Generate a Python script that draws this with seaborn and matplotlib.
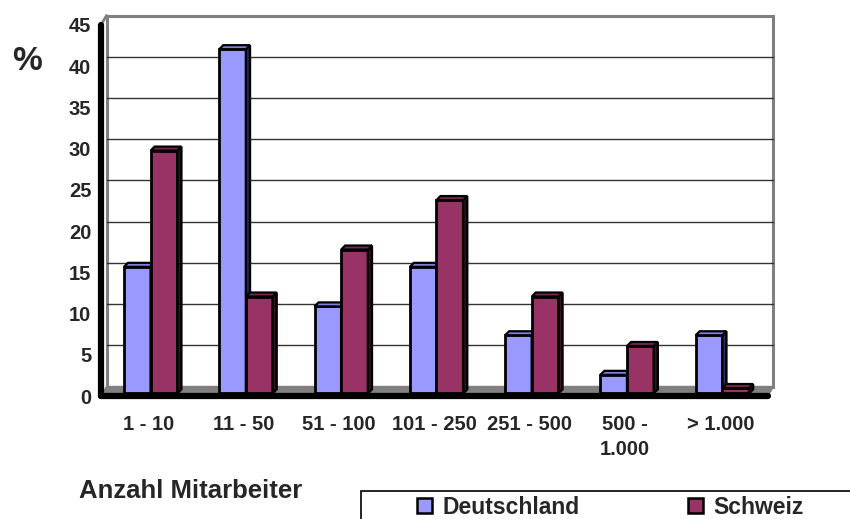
import numpy as np
import pandas as pd
import matplotlib
matplotlib.use("Agg")
import matplotlib.pyplot as plt
import seaborn as sns
from matplotlib.patches import Polygon, Rectangle, Patch
from matplotlib.transforms import ScaledTranslation

# ---- data -------------------------------------------------------------
categories = ["1 - 10", "11 - 50", "51 - 100", "101 - 250", "251 - 500",
              "500 -\n1.000", "> 1.000"]
deutschland = [15.0, 41.4, 10.2, 15.0, 6.7, 1.9, 6.7]
schweiz = [29.1, 11.4, 17.1, 23.1, 11.4, 5.4, 0.3]
series_names = ["Deutschland", "Schweiz"]
y_ticks = list(range(0, 50, 5))

face_colors = {"Deutschland": "#9999ff", "Schweiz": "#993366"}
cap_colors = {"Deutschland": "#7f7fe0", "Schweiz": "#7a2851"}
side_colors = {"Deutschland": "#2e2e66", "Schweiz": "#3a1226"}

# ---- style ------------------------------------------------------------
sns.set_theme(style="white")
plt.rcParams["font.family"] = ["Liberation Sans", "DejaVu Sans"]
plt.rcParams["font.weight"] = "bold"

W, H, DPI = 850, 519, 100
fig = plt.figure(figsize=(W / DPI, H / DPI), dpi=DPI)
fig.patch.set_facecolor("white")
ax = fig.add_axes([101 / W, 1 - 396 / H, (768 - 101) / W, (396 - 25) / H])
ax.patch.set_visible(False)

df = pd.DataFrame({
    "Anzahl": categories * 2,
    "Prozent": deutschland + schweiz,
    "Land": [series_names[0]] * len(categories) + [series_names[1]] * len(categories),
})

sns.barplot(data=df, x="Anzahl", y="Prozent", hue="Land", order=categories,
            hue_order=series_names, palette=face_colors, saturation=1,
            width=0.56, edgecolor="black", linewidth=2.0, legend=False, ax=ax)

ax.set_xlim(-0.5, len(categories) - 0.5)
ax.set_ylim(0, 45)
ax.set_xlabel("")
ax.set_ylabel("")


def px_to_data(dx_px, dy_px):
    inv = ax.transData.inverted()
    x0, y0 = inv.transform((0, 0))
    x1, y1 = inv.transform((dx_px, dy_px))
    return x1 - x0, y1 - y0


def shifted(dx_px, dy_px):
    return ax.transData + ScaledTranslation(dx_px / DPI, dy_px / DPI, fig.dpi_scale_trans)


# 3-D depth: back wall sits behind the axis plane, bars in between
wall_dx, wall_dy = 5.5, 9.5
bar_dx, bar_dy = 2.0, 5.5
depth_dx, depth_dy = 4.0, 4.0

wall_trans = ax.transAxes + ScaledTranslation(wall_dx / DPI, wall_dy / DPI, fig.dpi_scale_trans)
ax.add_patch(Rectangle((0, 0), 1, 1, transform=wall_trans, facecolor="white",
                       edgecolor="#808080", lw=2.2, zorder=0.2, clip_on=False))
wt = shifted(wall_dx, wall_dy)
for v in y_ticks[1:-1]:
    ax.plot([-0.5, len(categories) - 0.5], [v, v], transform=wt, color="#333333",
            lw=1.0, zorder=0.5, clip_on=False)

wx, wy = px_to_data(wall_dx, wall_dy)
x_lo, x_hi = -0.5, len(categories) - 0.5
ax.add_patch(Polygon([(x_lo, 0), (x_hi, 0), (x_hi + wx, wy), (x_lo + wx, wy)],
                     closed=True, facecolor="#808080", edgecolor="#808080",
                     lw=1, zorder=1, clip_on=False))
ax.plot([x_lo, x_lo + wx], [45, 45 + wy], color="#808080", lw=2, zorder=1,
        clip_on=False)

# front faces plus top and side faces of every bar
bt = shifted(bar_dx, bar_dy)
ddx, ddy = px_to_data(depth_dx, depth_dy)
_, ext = px_to_data(0, 2.8)
for k, (name, container) in enumerate(zip(series_names, ax.containers)):
    base_z = 2 + 0.3 * k
    for bar in container:
        x, w, h = bar.get_x(), bar.get_width(), bar.get_height()
        bar.set_y(-ext)
        bar.set_height(h + ext)
        bar.set_transform(bt)
        bar.set_zorder(base_z)
        bar.set_clip_on(False)
        cap = [(x, h), (x + w, h), (x + w + ddx, h + ddy), (x + ddx, h + ddy)]
        side = [(x + w, -ext), (x + w, h), (x + w + ddx, h + ddy), (x + w + ddx, ddy - ext)]
        ax.add_patch(Polygon(side, closed=True, transform=bt, facecolor=side_colors[name],
                             edgecolor="black", lw=1.8, zorder=base_z + 0.1, clip_on=False))
        ax.add_patch(Polygon(cap, closed=True, transform=bt, facecolor=cap_colors[name],
                             edgecolor="black", lw=1.6, zorder=base_z + 0.15, clip_on=False))

# ---- axes -------------------------------------------------------------
for s in ["top", "right"]:
    ax.spines[s].set_visible(False)
for s in ["left", "bottom"]:
    ax.spines[s].set_linewidth(4.5)
    ax.spines[s].set_color("black")
    ax.spines[s].set_zorder(5)
    ax.spines[s].set_capstyle("round")

ax.set_yticks(y_ticks)
ax.set_yticklabels([str(v) for v in y_ticks])
ax.tick_params(axis="y", direction="out", length=5, width=4.5, color="black",
               pad=2.0, labelsize=14.5)
ax.set_xticks(range(len(categories)))
ax.set_xticklabels(categories, linespacing=1.35)
ax.set_xticks(np.arange(-0.5, len(categories), 1), minor=True)
ax.tick_params(axis="x", which="major", length=0, pad=14, labelsize=14.5)
ax.tick_params(axis="x", which="minor", direction="out", length=6, width=4.5,
               color="black")
for lbl in ax.get_xticklabels() + ax.get_yticklabels():
    lbl.set_fontweight("bold")

fig.text(27 / W, 1 - 62 / H, "%", fontsize=24, fontweight="bold",
         ha="center", va="center")
fig.text(190.5 / W, 1 - 498 / H, "Anzahl Mitarbeiter", fontsize=18.5,
         fontweight="bold", ha="center", va="baseline")

# ---- legend -----------------------------------------------------------
fig.add_artist(Rectangle((361 / W, -0.2), 1.0, (1 - 491 / H) + 0.2,
                         transform=fig.transFigure, fill=False,
                         edgecolor="black", lw=1.2))
handles = [Patch(facecolor=face_colors[n], edgecolor="black", lw=1.8) for n in series_names]
fig.legend(handles, series_names, ncol=2, loc="center left",
           bbox_to_anchor=(417 / W, 1 - 507 / H), frameon=False, borderpad=0,
           borderaxespad=0, handlelength=0.65, handleheight=0.65,
           handletextpad=0.45, columnspacing=4.75,
           prop={"size": 16.5, "weight": "bold"})

fig.savefig("out.png", dpi=DPI)
